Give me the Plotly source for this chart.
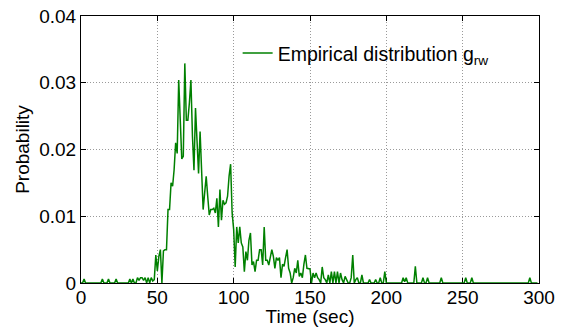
import plotly.graph_objects as go

# Time in seconds (1-s bins) and empirical probability values
time_sec = list(range(0, 300))

prob = [
    # 0-9
    0, 0, 0.0006, 0, 0, 0, 0, 0, 0, 0,
    # 10-19
    0, 0, 0, 0, 0.0006, 0, 0, 0, 0.0006, 0,
    # 20-29
    0, 0, 0, 0.0006, 0, 0, 0, 0, 0, 0,
    # 30-39
    0, 0, 0.0006, 0, 0.0006, 0, 0, 0.0008, 0.0004, 0.0008,
    # 40-49
    0.0008, 0.0004, 0.0008, 0, 0.0008, 0, 0.0008, 0.0003, 0.0005, 0.0042,
    # 50-59
    0.0018, 0.004, 0.005, 0, 0.0048, 0.005, 0.005, 0.011, 0.011, 0.015,
    # 60-69
    0.0145, 0.017, 0.021, 0.0194, 0.0304, 0.0245, 0.0186, 0.019, 0.0329, 0.0244,
    # 70-79
    0.0244, 0.027, 0.0304, 0.022, 0.0169, 0.0262, 0.021, 0.0164, 0.0227, 0.016,
    # 80-89
    0.011, 0.0135, 0.016, 0.013, 0.0102, 0.011, 0.011, 0.0112, 0.0105, 0.0127,
    # 90-99
    0.0084, 0.014, 0.0094, 0.0124, 0.0118, 0.012, 0.013, 0.016, 0.0178, 0.0105,
    # 100-109
    0.008, 0.0024, 0.0084, 0.006, 0.0084, 0.006, 0.0054, 0.0017, 0.0047, 0.0034,
    # 110-119
    0.0064, 0.0075, 0.0027, 0.0032, 0.0017, 0.0034, 0.0034, 0.005, 0.005, 0.0027,
    # 120-129
    0.0084, 0.0034, 0.0034, 0.0027, 0.0038, 0.005, 0.004, 0.0022, 0.0038, 0.0034,
    # 130-139
    0.0038, 0.0008, 0.0028, 0.0025, 0.0038, 0.005, 0.0022, 0.0015, 0, 0.0008,
    # 140-149
    0.0022, 0.0015, 0.0034, 0.001, 0.0015, 0.0008, 0.0028, 0.0042, 0.0022, 0.0021,
    # 150-159
    0.0021, 0, 0.0015, 0.0008, 0.0015, 0.0008, 0.0005, 0, 0.0024, 0.0008,
    # 160-169
    0.0005, 0, 0.0012, 0, 0.0017, 0, 0.0017, 0, 0.0017, 0,
    # 170-179
    0.0015, 0.0005, 0, 0.001, 0.0005, 0, 0, 0.0008, 0.0042, 0,
    # 180-189
    0.0005, 0.0008, 0, 0, 0.0012, 0, 0, 0, 0, 0.0005,
    # 190-199
    0, 0, 0, 0.0005, 0, 0, 0.0008, 0, 0, 0.0017,
    # 200-209
    0, 0, 0, 0, 0, 0, 0, 0, 0, 0,
    # 210-219
    0, 0.0008, 0.0002, 0.0008, 0, 0, 0, 0, 0, 0.0025,
    # 220-229
    0, 0, 0, 0, 0.0008, 0, 0, 0.0008, 0, 0,
    # 230-239
    0, 0, 0, 0, 0, 0, 0.0008, 0, 0, 0,
    # 240-249
    0, 0, 0, 0, 0, 0, 0, 0, 0, 0,
    # 250-259
    0, 0, 0.0008, 0, 0, 0, 0.0008, 0, 0, 0,
    # 260-269
    0, 0, 0, 0, 0, 0, 0, 0, 0, 0,
    # 270-279
    0, 0, 0, 0, 0, 0, 0, 0, 0, 0,
    # 280-289
    0, 0, 0, 0, 0, 0, 0, 0, 0, 0,
    # 290-299
    0, 0, 0, 0, 0.0008, 0, 0, 0, 0, 0,
]

x_ticks = [0, 50, 100, 150, 200, 250, 300]
y_ticks = [0, 0.01, 0.02, 0.03, 0.04]
y_tick_labels = ["0", "0.01", "0.02", "0.03", "0.04"]

FONT = "Liberation Sans, Arial, Helvetica, sans-serif"

fig = go.Figure()
fig.add_trace(go.Scatter(
    x=time_sec, y=prob, mode="lines",
    line=dict(color="#008000", width=1.5),
    name="Empirical distribution g<sub>rw</sub>",
    showlegend=True,
    cliponaxis=False,
))

axis_common = dict(
    showline=True, linecolor="black", linewidth=1, mirror="ticks",
    ticks="inside", ticklen=5, tickcolor="black", tickwidth=1,
    showgrid=True, gridcolor="#9a9a9a", griddash="1px,2px", gridwidth=1,
    zeroline=False, layer="below traces", automargin=False,
    tickfont=dict(family=FONT, size=19, color="black"),
)

fig.update_layout(
    width=565, height=327,
    margin=dict(l=81, r=26, t=16, b=44, autoexpand=False),
    paper_bgcolor="white", plot_bgcolor="white",
    font=dict(family=FONT, size=19, color="black"),
    xaxis=dict(
        range=[0, 300], tickvals=x_ticks,
        ticklabelstandoff=-3,
        title=dict(text="Time (sec)", font=dict(family=FONT, size=19), standoff=0),
        **axis_common,
    ),
    yaxis=dict(
        range=[0, 0.04], tickvals=y_ticks, ticktext=y_tick_labels,
        title=dict(text="Probability", font=dict(family=FONT, size=19), standoff=4),
        **axis_common,
    ),
    legend=dict(
        x=0.342, y=0.86, xanchor="left", yanchor="middle",
        bgcolor="rgba(0,0,0,0)", borderwidth=0,
        font=dict(family=FONT, size=19.5, color="black"),
    ),
)

fig.write_html("out.html")
